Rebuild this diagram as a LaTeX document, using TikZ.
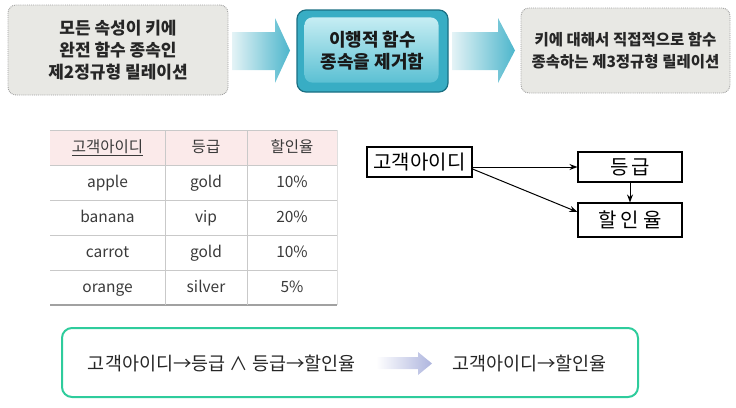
\documentclass[tikz,border=0pt]{standalone}
\usepackage{fontspec}
\setmainfont{Noto Sans CJK KR}
\usetikzlibrary{arrows.meta}
\definecolor{boxgray}{HTML}{E8E8E4}
\definecolor{dotgray}{HTML}{A0A0A0}
\definecolor{tealdark}{HTML}{1A6F82}
\definecolor{teallight}{HTML}{C6EDF3}
\definecolor{tealinner}{HTML}{5BC0D3}
\definecolor{tealmid}{HTML}{38ADC4}
\definecolor{arrowlight}{HTML}{E4F3F6}
\definecolor{arrowteal}{HTML}{4DB6CC}
\definecolor{gridgray}{HTML}{C9C9C9}
\definecolor{headpink}{HTML}{FBEAEA}
\definecolor{celltext}{HTML}{3A3A3A}
\definecolor{greenline}{HTML}{2ECC9C}
\definecolor{lavender}{HTML}{AEB5DE}
\begin{document}
\begin{tikzpicture}[x=1pt,y=-1pt,
  graybox/.style={draw=dotgray, densely dotted, line width=0.9pt, fill=boxgray, rounded corners=8pt, align=center, text=black!85},
  topfont/.style={font=\fontsize{#1}{22}\selectfont\bfseries},
  cell/.style={font=\fontsize{15.5}{17}\selectfont, text=celltext, text height=11pt, text depth=3.5pt},
  fdbox/.style={draw=black, line width=1.1pt, font=\fontsize{20}{22}\selectfont, inner sep=0pt},
  fdarrow/.style={-{Stealth[length=8pt,width=6pt]}, line width=1pt},
  btext/.style={font=\fontsize{18.5}{20}\selectfont, text=black!85}
]
\useasboundingbox (0,0) rectangle (736,407);

% ---- top row
\node[graybox, topfont=17, minimum width=220pt, minimum height=90pt] (b1) at (118,50)
  {모든 속성이 키에\\완전 함수 종속인\\제2정규형 릴레이션};
\shade[left color=arrowlight, right color=arrowteal]
  (232,32) -- (275,32) -- (275,18) -- (290,50.5) -- (275,83) -- (275,70) -- (232,70) -- cycle;
\node[draw=tealdark, line width=1.2pt, rounded corners=9pt, fill=tealmid,
  minimum width=151pt, minimum height=82pt] (b2frame) at (372.5,51) {};
\shade[rounded corners=8pt, top color=teallight, bottom color=tealinner]
  ([xshift=8pt,yshift=-8pt]b2frame.north west) rectangle ([xshift=-10pt,yshift=10pt]b2frame.south east);
\node[align=center, topfont=18, text=black!90] (b2) at (b2frame.center) {이행적 함수\\종속을 제거함};
\shade[left color=arrowlight, right color=arrowteal]
  (452,32) -- (498,32) -- (498,18) -- (515,50.5) -- (498,83) -- (498,70) -- (452,70) -- cycle;
\node[graybox, topfont=15.5, minimum width=209pt, minimum height=85pt] (b3) at (625.5,50.5)
  {키에 대해서 직접적으로 함수\\종속하는 제3정규형 릴레이션};

% ---- table
\fill[headpink] (50,130) rectangle (337,165);
\draw[gridgray, line width=1pt] (50,130) -- (337,130);
\foreach \yy in {165,200,235,270} \draw[gridgray, line width=1pt] (50,\yy) -- (337,\yy);
\draw[gridgray!80!black, line width=1.2pt] (50,305) -- (337,305);
\draw[gridgray, line width=1pt] (165,130) -- (165,305);
\draw[gridgray, line width=1pt] (247,130) -- (247,305);
\draw[gridgray!60, line width=1pt] (337,130) -- (337,305);
\node[cell] (h1) at (107.5,149) {\underline{고객아이디}};
\node[cell] (h2) at (206,149) {등급};
\node[cell] (h3) at (292,149) {할인율};
\node[cell] (r11) at (107.5,184) {apple};
\node[cell] (r12) at (206,184) {gold};
\node[cell] (r13) at (292,184) {10\%};
\node[cell] (r21) at (107.5,219) {banana};
\node[cell] (r22) at (206,219) {vip};
\node[cell] (r23) at (292,219) {20\%};
\node[cell] (r31) at (107.5,254) {carrot};
\node[cell] (r32) at (206,254) {gold};
\node[cell] (r33) at (292,254) {10\%};
\node[cell] (r41) at (107.5,289) {orange};
\node[cell] (r42) at (206,289) {silver};
\node[cell] (r43) at (292,289) {5\%};

% ---- functional dependency diagram
\node[fdbox, minimum width=105pt, minimum height=30pt] (A) at (419.5,162) {고객아이디};
\node[fdbox, minimum width=104pt, minimum height=30pt] (B) at (630,167) {등\hspace{3pt}급};
\node[fdbox, minimum width=104pt, minimum height=34pt] (C) at (630,220) {할\hspace{4pt}인\hspace{4pt}율};
\draw[fdarrow] (A.east |- B.west) -- (B.west);
\draw[fdarrow] ([yshift=-7pt]A.east) -- ([yshift=8pt]C.west);
\draw[fdarrow] (B.south) -- (C.north);

% ---- bottom box
\node[draw=greenline, line width=2pt, rounded corners=10pt, minimum width=576pt, minimum height=69pt] (bot) at (350,362.5) {};
\node[btext] (t1) at (222,363) {고객아이디→등급 ∧ 등급→할인율};
\shade[left color=white, right color=lavender]
  (376,357) -- (418,357) -- (418,352) -- (432,363.5) -- (418,375) -- (418,369) -- (376,369) -- cycle;
\node[btext] (t2) at (529.5,363) {고객아이디→할인율};
\end{tikzpicture}
\end{document}
